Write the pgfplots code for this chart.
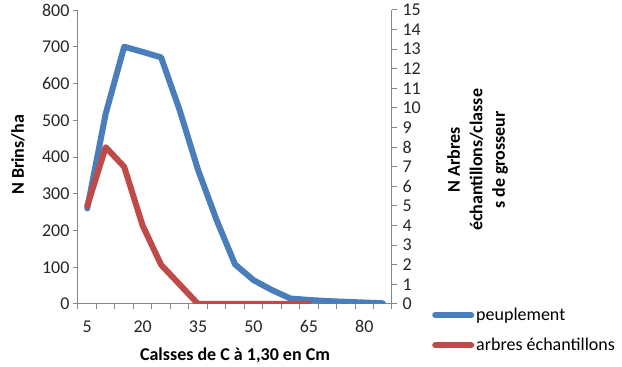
\documentclass[border=0pt]{standalone}
\usepackage{pgfplots}
\pgfplotsset{compat=1.18}
\usepackage{fontspec}
\setmainfont{Carlito}
\definecolor{xlblue}{HTML}{4A7EBB}
\definecolor{xlred}{HTML}{BE4B48}
\definecolor{axgray}{HTML}{868686}
\begin{document}
\begin{tikzpicture}[font=\fontsize{18}{21.5}\selectfont]
\pgfplotsset{
  common/.style={
    width=314pt, height=294pt, scale only axis,
    xmin=2.5, xmax=87.5,
    /pgf/number format/assume math mode=true,
    tick label style={font=\fontsize{18}{21.5}\selectfont, text=black!85},
    axis line style={axgray, line width=1pt},
    tick style={axgray, line width=1pt},
    tick align=outside,
    major tick length=5pt,
    minor tick length=5pt,
  }
}
\begin{axis}[common,
  axis x line*=bottom, axis y line*=left,
  ymin=0, ymax=800, ytick={0,100,...,800},
  xtick={5,20,35,50,65,80},
  major x tick style={draw=none},
  minor xtick={2.5,7.5,...,87.5},
  xticklabel style={yshift=-8pt},
  xlabel={\bfseries Calsses de C à 1,30 en Cm},
  xlabel style={at={(axis description cs:0.5,-0.175)}, anchor=center},
  ylabel={\bfseries N Brins/ha},
  ylabel style={at={(axis description cs:-0.191,0.507)}, anchor=center, rotate=0},
]
\addplot[xlblue, line width=6pt, line join=round, line cap=round] coordinates {
(5,260) (10,518) (15,700) (20,686) (25,671) (30,528) (35,365) (40,229) (45,108)
(50,65) (55,38) (60,15) (65,11) (70,8) (75,6) (80,4) (85,2)};
\end{axis}
\begin{axis}[common,
  axis x line=none, axis y line*=right,
  ymin=0, ymax=15, ytick={0,1,...,15},
  yticklabel style={xshift=2pt},
  ylabel={\bfseries\begin{tabular}{c}N Arbres\\[1pt]échantillons/classe\\[1pt]s de grosseur\end{tabular}},
  ylabel style={at={(axis description cs:1.274,0.49)}, anchor=center, rotate=0},
  legend style={at={(axis description cs:1.118,0.0)}, anchor=north west,
    draw=none, fill=none, font=\fontsize{18}{21.5}\selectfont,
    row sep=12pt, cells={anchor=west}},
  legend image code/.code={\draw[#1, line cap=round] (0pt,0pt) -- (36pt,0pt);},
]
\addlegendimage{xlblue, line width=6pt}
\addlegendentry{peuplement}
\addplot[xlred, line width=6pt, line join=round, line cap=round] coordinates {
(5,5) (10,8) (15,7) (20,4) (25,2) (30,1) (35,0) (40,0) (45,0) (50,0) (55,0) (60,0) (65,0)};
\addlegendentry{arbres échantillons}
\end{axis}
\pgfresetboundingbox
\path[use as bounding box] (-78pt,-63pt) rectangle (544pt,304pt);
\end{tikzpicture}
\end{document}
